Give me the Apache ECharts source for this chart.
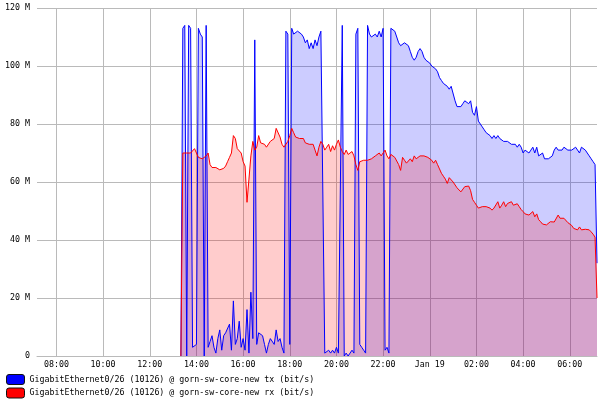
<!DOCTYPE html>
<html><head><meta charset="utf-8">
<script src="https://cdn.jsdelivr.net/npm/echarts@6/dist/echarts.min.js"></script>
<style>html,body{margin:0;padding:0;background:#fff}#c{width:600px;height:400px}</style>
</head><body><div id="c"></div>
<script>
// time in minutes from Jan 18 00:00
const viewStart = 430;   // 07:10
const viewEnd = 1870;    // 07:10 next day
const sampleStart = 800; // 13:20
const sampleStep = 5;    // minutes per sample

const xTickMinutes = [480, 600, 720, 840, 960, 1080, 1200, 1320, 1440, 1560, 1680, 1800];
const xTickLabels = ['08:00', '10:00', '12:00', '14:00', '16:00', '18:00', '20:00', '22:00', 'Jan 19', '02:00', '04:00', '06:00'];
const yTickValues = [0, 20, 40, 60, 80, 100, 120];
const yTickLabels = ['0', '20 M', '40 M', '60 M', '80 M', '100 M', '120 M'];

const seriesNames = [
  'GigabitEthernet0/26 (10126) @ gorn-sw-core-new tx (bit/s)',
  'GigabitEthernet0/26 (10126) @ gorn-sw-core-new rx (bit/s)'
];

// values in Mbit/s
const tx = [
0, 113, 114, 0, 114, 113, 3, 3, 4, 113,
111, 110, 0, 114, 3, 5, 7, 3, 1, 6,
9, 2, 7, 8, 8, 11, 2, 19, 4, 6,
12, 3, 6, 2, 16, 1, 22, 6, 109, 4,
8, 8, 7, 4, 1, 4, 6, 6, 4, 9,
5, 6, 3, 1, 112, 111, 4, 113, 111, 111,
112, 112, 111, 110, 108, 109, 106, 108, 106, 109,
107, 110, 112, 112, 1, 1, 2, 1, 2, 1,
3, 1, 1, 114, 0, 1, 0, 1, 2, 1,
111, 113, 4, 3, 2, 1, 114, 111, 110, 110,
111, 110, 112, 110, 113, 2, 3, 1, 113, 113,
112, 110, 108, 107, 107, 108, 108, 107, 105, 103,
102, 103, 105, 106, 105, 103, 102, 102, 101, 100,
100, 99, 98, 96, 95, 94, 94, 93, 92, 93,
93, 88, 86, 86, 86, 87, 88, 88, 87, 88,
84, 83, 86, 81, 80, 79, 78, 77, 77, 76,
75, 76, 75, 76, 75, 75, 74, 74, 74, 74,
73, 73, 73, 72, 73, 72, 70, 71, 71, 70,
71, 72, 70, 72, 69, 69, 70, 68, 68, 68,
68, 69, 71, 72, 71, 71, 71, 72, 72, 71,
71, 71, 71, 72, 72, 70, 72, 72, 71, 70,
69, 68, 67, 66, 32
];
const rx = [
0, 70, 70, 70, 70, 70, 70, 71.5, 70, 68.5,
68, 68, 68.5, 69, 70, 66, 65, 64.5, 65, 65,
64.2, 64.7, 64.7, 65.5, 67, 68.5, 70, 76, 75, 71.5,
72, 70, 67, 65.5, 53, 61, 69, 74, 71, 72,
76, 73.5, 73, 73, 72, 72.5, 74, 74.5, 75, 78.5,
78, 75.5, 73, 72, 72.5, 74, 76, 78.5, 77, 75.5,
75.5, 75, 74.5, 75, 73.5, 74, 73, 72.5, 73, 71,
69, 72, 74, 73, 71, 72, 73, 70.5, 72.5, 71,
73, 74.5, 72, 70.5, 69.5, 71, 69.5, 70, 70.5, 69,
66, 64, 67, 67, 67.5, 68, 67.5, 67.5, 68, 68,
69, 69.5, 70, 69, 70, 71, 69, 68, 69.5, 69,
68.5, 68.5, 66, 64, 68.5, 67.5, 66.5, 67, 68, 67,
69, 68, 68.5, 69, 69.3, 69, 68.7, 68.5, 68, 67.5,
66.5, 67.5, 66, 64.5, 63, 62, 61, 59.5, 61.5, 62,
60, 59.5, 58, 57.5, 56.6, 57, 58.4, 58, 58.6, 57,
54, 53, 52, 51, 51.5, 51.5, 51, 51.5, 51.5, 51,
50.3, 51, 51.5, 53.2, 51, 52, 53.2, 51.5, 52.6, 53,
53.2, 52, 51.5, 52.5, 51.5, 50.5, 49.8, 49, 48.6, 48.6,
49, 49.8, 48, 49, 47, 46.3, 45.5, 45.2, 45.2, 45.8,
46.3, 46, 46.2, 46.3, 48.6, 47.5, 47, 47.5, 47, 46,
46.3, 45, 44, 44.5, 43.5, 44.5, 43.5, 44, 43.7, 43.5,
43.5, 42.8, 42, 41, 20
];

const toPairs = arr => arr.map((v, i) => [sampleStart + i * sampleStep, v]);
const FONT = 'DejaVu Sans Mono';
const GRID = '#bababa';

const chart = echarts.init(document.getElementById('c'), null, {renderer: 'canvas'});
chart.setOption({
  animation: false,
  backgroundColor: '#fff',
  grid: {left: 37, right: 3, top: 8, bottom: 44},
  xAxis: {
    type: 'value', min: viewStart, max: viewEnd,
    axisLine: {show: true, lineStyle: {color: GRID, width: 1}},
    axisTick: {show: false, customValues: xTickMinutes},
    splitLine: {show: true, lineStyle: {color: GRID, width: 1}},
    axisLabel: {
      customValues: xTickMinutes, margin: 5, color: '#000',
      fontFamily: FONT, fontSize: 8.3,
      formatter: v => xTickLabels[xTickMinutes.indexOf(v)] || ''
    }
  },
  yAxis: {
    type: 'value', min: 0, max: 120, interval: 20,
    axisLine: {show: false}, axisTick: {show: false},
    splitLine: {show: true, lineStyle: {color: GRID, width: 1}},
    axisLabel: {
      margin: 7, color: '#000', fontFamily: FONT, fontSize: 8.3,
      formatter: v => yTickLabels[yTickValues.indexOf(v)] || ''
    }
  },
  legend: {
    orient: 'vertical', left: 6, top: 374, padding: 0, itemGap: 2.5,
    itemWidth: 18, itemHeight: 10, itemTextGap: 4, icon: 'roundRect',
    itemStyle: {borderColor: '#111', borderWidth: 1},
    textStyle: {fontFamily: FONT, fontSize: 8.3, color: '#000'},
    data: seriesNames
  },
  series: [
    {
      name: seriesNames[0], type: 'line', data: toPairs(tx),
      showSymbol: false, symbol: 'none',
      itemStyle: {color: '#0000ff'},
      lineStyle: {color: '#0000ff', width: 1},
      areaStyle: {color: '#0000ff', opacity: 0.2, origin: 'start'}
    },
    {
      name: seriesNames[1], type: 'line', data: toPairs(rx),
      showSymbol: false, symbol: 'none',
      itemStyle: {color: '#ff0000'},
      lineStyle: {color: '#ff0000', width: 1},
      areaStyle: {color: '#ff0000', opacity: 0.2, origin: 'start'}
    }
  ]
});
</script>
</body></html>
